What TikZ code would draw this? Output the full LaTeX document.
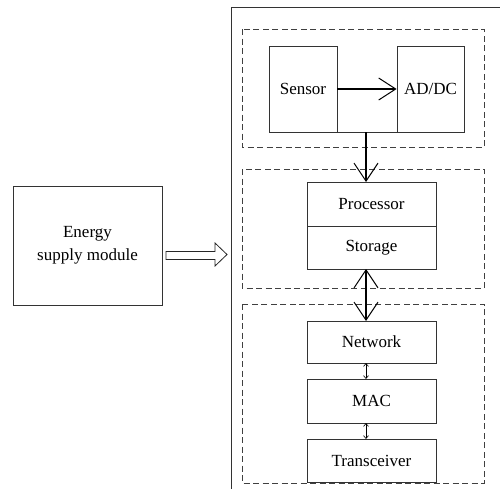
\documentclass[tikz,border=0pt]{standalone}
\usepackage{fontspec}
\setmainfont{Liberation Serif}
\usetikzlibrary{arrows.meta}
\begin{document}
\begin{tikzpicture}[x=1pt,y=-1pt,
  box/.style={draw=black!80,line width=0.8pt,inner sep=0pt},
  dbox/.style={draw=black!75,line width=0.8pt,dash pattern=on 6pt off 3.5pt},
  lbl/.style={font=\fontsize{17}{22.5}\selectfont},
  bigarr/.style={line width=1.5pt,-{Straight Barb[length=18pt,width=24pt,line width=1pt]}},
  bigdarr/.style={line width=1.5pt,{Straight Barb[length=18pt,width=24pt,line width=1pt]}-{Straight Barb[length=18pt,width=24pt,line width=1pt]}},
  smalldarr/.style={line width=0.6pt,{Straight Barb[length=3pt,width=5pt]}-{Straight Barb[length=3pt,width=5pt]}}]
\clip (0,0) rectangle (500,488);
\fill[white] (0,0) rectangle (500,488);
% outer frame
\draw[box] (231,7) rectangle (520,500);
% dashed groups
\draw[dbox] (242,29) rectangle (484,147);
\draw[dbox] (242,169) rectangle (484,288);
\draw[dbox] (242,304) rectangle (484,483);
% nodes
\node[box,minimum width=68pt,minimum height=86pt] (sensor) at (303,89) {};
\node[lbl] at (sensor.center) {Sensor};
\node[box,minimum width=67pt,minimum height=86pt] (addc) at (430.5,89) {};
\node[lbl] at (addc.center) {AD/DC};
\node[box,minimum width=129pt,minimum height=44pt] (proc) at (371.5,204) {};
\node[lbl] at (proc.center) {Processor};
\node[box,minimum width=129pt,minimum height=43pt] (stor) at (371.5,247.5) {};
\node[lbl] at (stor.center) {Storage};
\node[box,minimum width=129pt,minimum height=42pt] (net) at (371.5,342) {};
\node[lbl] at (net.center) {Network};
\node[box,minimum width=129pt,minimum height=44pt] (mac) at (371.5,401) {};
\node[lbl] at (mac.center) {MAC};
\node[box,minimum width=129pt,minimum height=43pt] (trx) at (371.5,460.5) {};
\node[lbl] at (trx.center) {Transceiver};
\node[box,minimum width=149pt,minimum height=119pt] (energy) at (87.5,245.5) {};
\node[lbl,align=center] at (energy.center) {Energy\\supply module};
% connectors
\draw[box] (sensor.south east) -- (addc.south west);
\draw[line width=1.2pt,-{Straight Barb[length=17pt,width=22pt,line width=1pt]}] (sensor.east) -- (addc.west);
\coordinate (a1) at (366,132);
\coordinate (a2) at (366,182);
\draw[bigarr] (a1) -- (a2);
\coordinate (b1) at (366,269);
\coordinate (b2) at (366,321);
\draw[bigdarr] (b1) -- (b2);
\coordinate (c1) at (366,363);
\coordinate (c2) at (366,379);
\draw[smalldarr] (c1) -- (c2);
\coordinate (d1) at (366,423);
\coordinate (d2) at (366,439);
\draw[smalldarr] (d1) -- (d2);
% hollow arrow
\draw[line width=0.8pt,draw=black!85] (166,251.5) -- (215,251.5) -- (215,243) -- (227,254.5) -- (215,266) -- (215,259.5) -- (166,259.5) -- cycle;
\end{tikzpicture}
\end{document}
